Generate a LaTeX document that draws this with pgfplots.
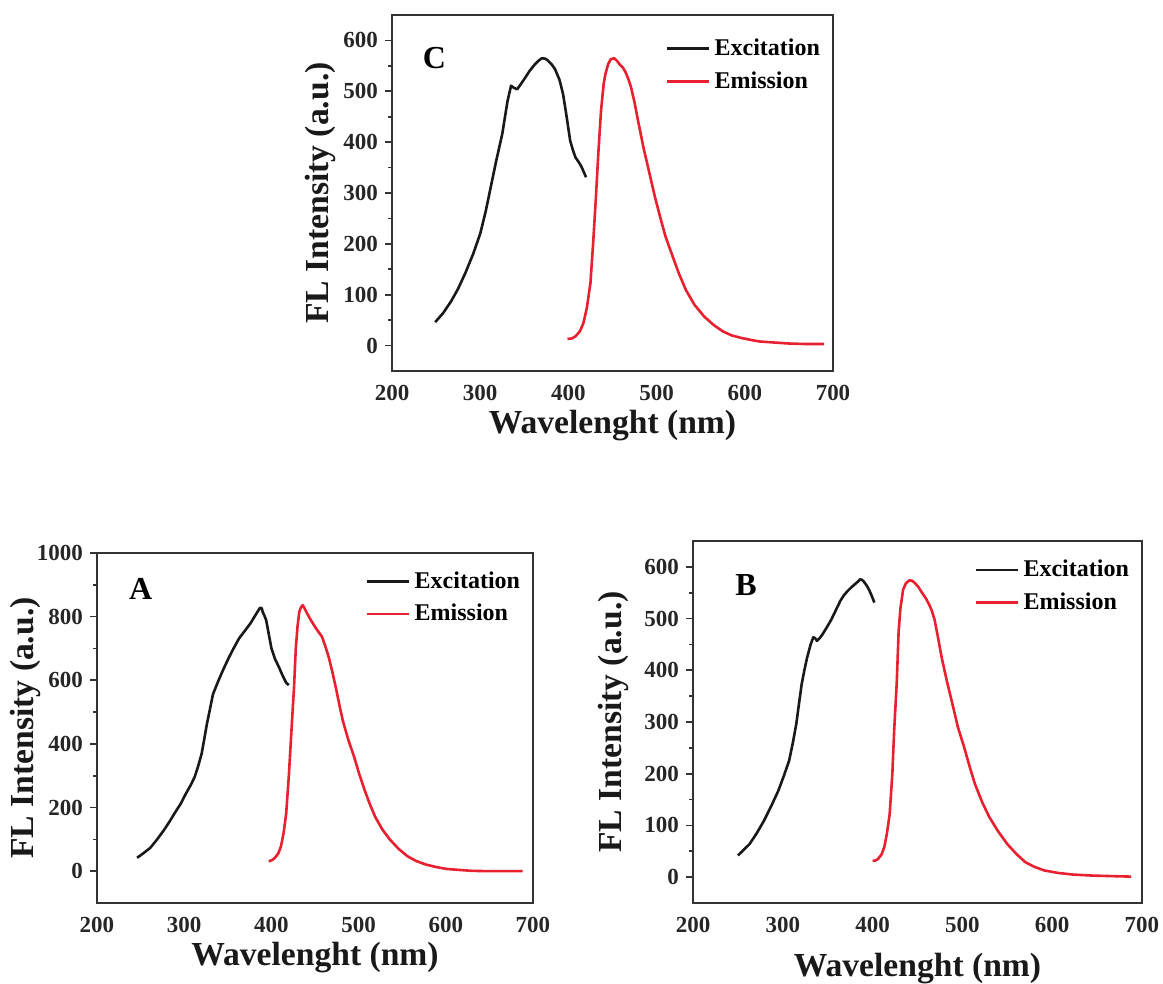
\documentclass[border=0pt]{standalone}
\usepackage{fontspec}
\setmainfont{Liberation Serif}
\usepackage{pgfplots}
\pgfplotsset{compat=1.18}
\definecolor{exc}{RGB}{25,25,25}
\definecolor{emi}{RGB}{232,32,48}
\pgfplotsset{
  panel/.style={
    scale only axis,
    xmin=200,xmax=700,
    xtick={200,300,...,700},
    axis line style={line width=1pt, color=black!80},
    tick style={line width=0.8pt, color=black!80},
    tick align=outside,
    xtick pos=bottom, ytick pos=left,
    major tick length=3.5pt,
    minor tick length=2pt,
    xtick style={draw=none},
    minor y tick num=1,
    /pgf/number format/assume math mode=true,
    /pgf/number format/1000 sep={},
    ticklabel style={font=\fontsize{11.5}{13}\selectfont\bfseries, text=black!85},
    label style={font=\fontsize{16.8}{20}\selectfont\bfseries, text=black!90},
    xlabel={Wavelenght (nm)},
    ylabel={FL Intensity (a.u.)},
    legend style={draw=none, fill=none, font=\fontsize{12}{14}\selectfont\bfseries,
      anchor=north east, row sep=2.5pt, inner sep=1pt},
    legend cell align=left,
    legend image code/.code={\draw[##1, line width=1.3pt] (0cm,0cm) -- (0.75cm,0cm);},
    every axis plot/.append style={line width=1.3pt, line join=round},
  }
}
\begin{document}
\begin{tikzpicture}
\path[use as bounding box] (0,0) rectangle (581.5pt,492pt);

% ---------- Panel C ----------
\begin{axis}[panel, at={(196pt,306.5pt)}, anchor=south west,
  width=220.5pt, height=178pt, ymin=-50, ymax=650,
  ytick={0,100,...,600},
  legend style={at={(0.985,0.951)}},
  xlabel style={at={(axis description cs:0.5,-0.153)}, anchor=center},
  ylabel style={at={(axis description cs:-0.163,0.5)}, anchor=center}]
\addplot[exc] coordinates {
(249,46)(258,64)(267,87)(275,112)(283,142)(292,180)(300,220)(306,262)(312,312)
(318,362)(325,416)(331,481)(335,511)(338,507)(342,504)(346,514)(350,524)(356,540)
(362,553)(366,560)(370,565)(374,564)(377,560)(381,553)(385,543)(390,522)(394,494)
(398,450)(402,403)(405,385)(408,370)(412,360)(415,351)(420,331)};
\addlegendentry{Excitation}
\addplot[emi] coordinates {
(399,13)(404,14)(408,18)(413,28)(417,44)(421,75)(425,123)(428,200)(431,286)(434,380)
(437,462)(440,515)(442,534)(445,553)(448,563)(452,565)(455,560)(458,553)(462,546)
(465,537)(468,524)(471,508)(475,478)(479,442)(485,390)(492,338)(498,293)(504,253)
(510,215)(517,181)(525,143)(533,110)(543,80)(554,57)(565,40)(575,28)(585,20)(596,15)
(607,11)(617,8)(633,6)(650,4)(670,3)(690,3)};
\addlegendentry{Emission}
\node[font=\fontsize{16}{18}\selectfont\bfseries] at (axis cs:248,565) {C};
\end{axis}

% ---------- Panel A ----------
\begin{axis}[panel, at={(48.5pt,40.5pt)}, anchor=south west,
  width=218pt, height=175pt, ymin=-100, ymax=1000,
  ytick={0,200,...,1000},
  legend style={at={(0.985,0.965)}},
  xlabel style={at={(axis description cs:0.5,-0.155)}, anchor=center},
  ylabel style={at={(axis description cs:-0.165,0.5)}, anchor=center}]
\addplot[exc] coordinates {
(246,42)(253,56)(261,73)(269,100)(277,130)(283,155)(289,182)(296,212)(302,244)
(307,268)(312,296)(316,330)(320,369)(323,415)(326,462)(330,515)(333,556)(339,597)
(345,635)(351,670)(357,702)(363,732)(370,757)(376,779)(380,797)(384,815)(387,828)
(389,826)(390,815)(392,803)(394,789)(397,745)(400,701)(404,668)(409,639)(413,614)
(417,592)(420,585)};
\addlegendentry{Excitation}
\addplot[emi] coordinates {
(397,31)(401,35)(404,42)(408,56)(411,78)(414,120)(417,182)(420,300)(423,441)
(426,580)(428,701)(430,770)(432,815)(434,830)(436,836)(438,826)(441,810)(445,790)
(450,768)(454,752)(458,737)(462,706)(466,670)(470,625)(474,576)(478,522)(482,472)
(488,415)(495,358)(501,303)(507,254)(513,210)(519,171)(527,132)(536,99)(546,70)
(556,47)(566,32)(577,21)(589,13)(601,7)(615,4)(630,1)(650,0)(670,0)(688,0)};
\addlegendentry{Emission}
\node[font=\fontsize{16}{18}\selectfont\bfseries] at (axis cs:250,887) {A};
\end{axis}

% ---------- Panel B ----------
\begin{axis}[panel, at={(346.5pt,40.5pt)}, anchor=south west,
  width=224.5pt, height=181pt, ymin=-50, ymax=650,
  ytick={0,100,...,600},
  legend style={at={(0.985,0.965)}},
  xlabel style={at={(axis description cs:0.5,-0.18)}, anchor=center},
  ylabel style={at={(axis description cs:-0.178,0.5)}, anchor=center}]
\addplot[exc] coordinates {
(250,42)(256,52)(263,64)(271,85)(279,109)(287,137)(295,167)(301,195)(307,225)
(311,258)(315,296)(318,335)(321,373)(324,400)(327,424)(331,450)(334,464)(336,462)
(338,457)(341,462)(344,469)(349,483)(354,498)(359,516)(364,534)(368,545)(372,553)
(376,560)(380,566)(384,572)(386,576)(388,575)(390,572)(393,565)(396,556)(399,544)
(402,531)};
\addlegendentry{Excitation}
\addplot[emi] coordinates {
(400,32)(403,32)(406,35)(410,44)(413,58)(416,85)(419,122)(422,200)(424,283)
(427,380)(429,476)(431,520)(434,556)(437,568)(441,574)(444,573)(447,569)(451,561)
(455,550)(459,540)(463,527)(466,515)(469,498)(473,462)(477,424)(483,377)(489,334)
(495,290)(502,251)(508,214)(514,180)(522,145)(530,116)(540,88)(550,64)(560,45)
(570,29)(580,20)(591,13)(607,8)(623,5)(645,3)(665,2)(688,1)};
\addlegendentry{Emission}
\node[font=\fontsize{16}{18}\selectfont\bfseries] at (axis cs:259,565) {B};
\end{axis}
\end{tikzpicture}
\end{document}
